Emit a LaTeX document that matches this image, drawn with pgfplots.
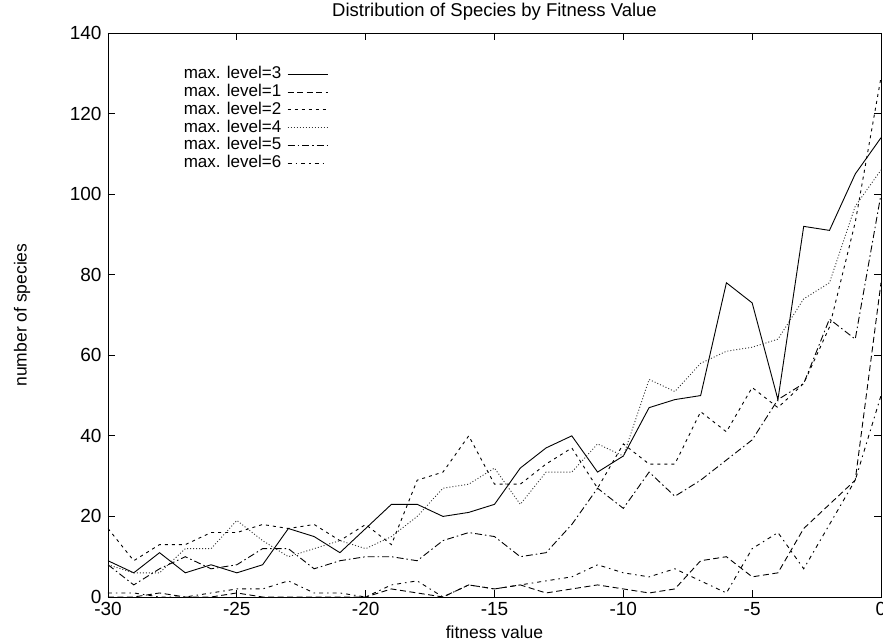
\documentclass[border=0pt]{standalone}
\usepackage{fontspec}
\setmainfont{Liberation Sans}
\usepackage{pgfplots}
\pgfplotsset{compat=1.18}
\usepackage{pgfplotstable}

% species counts per fitness value, one column per maximum level
\pgfplotstableread{
x    l3   l1  l2   l4   l5   l6
-30  9    0   17   8    8    1
-29  6    0   9    6    3    1
-28  11   1   13   6    7    0
-27  6    0   13   12   10   0
-26  8    0   16   12   7    1
-25  6    1   16   19   8    2
-24  8    0   18   14   12   2
-23  17   0   17   10   12   4
-22  15   0   18   12   7    1
-21  11   0   14   14   9    1
-20  17   0   18   12   10   0
-19  23   2   13   15   10   3
-18  23   1   29   20   9    4
-17  20   0   31   27   14   0
-16  21   3   40   28   16   3
-15  23   2   28   32   15   2
-14  32   3   28   23   10   3
-13  37   1   33   31   11   4
-12  40   2   37   31   18   5
-11  31   3   27   38   27   8
-10  35   2   38   35   22   6
-9   47   1   33   54   31   5
-8   49   2   33   51   25   7
-7   50   9   46   58   29   4
-6   78   10  41   61   34   1
-5   73   5   52   62   39   12
-4   49   6   47   64   49   16
-3   92   17  53   74   53   7
-2   91   23  67   78   69   18
-1   105  29  93   97   64   29
0    114  78  129  106  100  50
}\speciesdata

\begin{document}
\begin{tikzpicture}
\begin{axis}[
  name=ax,
  width=773pt, height=564pt, scale only axis,
  xmin=-30, xmax=0, ymin=0, ymax=140,
  xtick={-30,-25,...,0}, ytick={0,20,...,140},
  tick align=inside, major tick length=7pt,
  tick style={line width=0.8pt, black},
  axis line style={line width=0.9pt},
  /pgf/number format/assume math mode=true,
  ticklabel style={font=\fontsize{19}{22}\selectfont},
  xticklabel style={yshift=-2pt},
  yticklabel style={xshift=-3pt},
  title={Distribution of Species by Fitness Value},
  title style={at={(axis description cs:0.5,1.037)}, anchor=center, inner sep=0pt,
    yshift=-6pt, font=\fontsize{18.5}{22}\selectfont},
  xlabel={fitness value}, ylabel={number of species},
  every axis x label/.style={at={(axis description cs:0.5,-0.062)}, anchor=center,
    font=\fontsize{17.5}{21}\selectfont},
  every axis y label/.style={at={(axis description cs:-0.111,0.5)}, rotate=90, anchor=center,
    font=\fontsize{17.5}{21}\selectfont},
  legend cell align=right,
  legend plot pos=right,
  legend image code/.code={\draw[#1] (0pt,0pt) -- (40pt,0pt);},
  legend style={at={(axis description cs:0.289,0.945)}, anchor=north east,
    draw=none, fill=none, row sep=1.8pt, column sep=6pt,
    nodes={inner sep=0pt, text height=12.5pt, text depth=3.5pt,
      font=\fontsize{17}{21}\selectfont}},
  every axis plot/.append style={black, line width=0.9pt, line join=miter},
]
\addplot[solid] table[x=x, y=l3] {\speciesdata};
\addlegendentry{max. level=3}
\addplot[dash pattern=on 6pt off 3.5pt] table[x=x, y=l1] {\speciesdata};
\addlegendentry{max. level=1}
\addplot[dash pattern=on 3pt off 4pt] table[x=x, y=l2] {\speciesdata};
\addlegendentry{max. level=2}
\addplot[dash pattern=on 1pt off 2pt, black!80] table[x=x, y=l4] {\speciesdata};
\addlegendentry{max. level=4}
\addplot[dash pattern=on 7pt off 3pt on 1.5pt off 3pt] table[x=x, y=l5] {\speciesdata};
\addlegendentry{max. level=5}
\addplot[dash pattern=on 4pt off 4pt on 1.5pt off 4pt] table[x=x, y=l6] {\speciesdata};
\addlegendentry{max. level=6}
\end{axis}
\pgfresetboundingbox
\path[use as bounding box] ([shift={(-108pt,-47pt)}]ax.south west) rectangle ([shift={(2pt,33pt)}]ax.north east);
\end{tikzpicture}
\end{document}
